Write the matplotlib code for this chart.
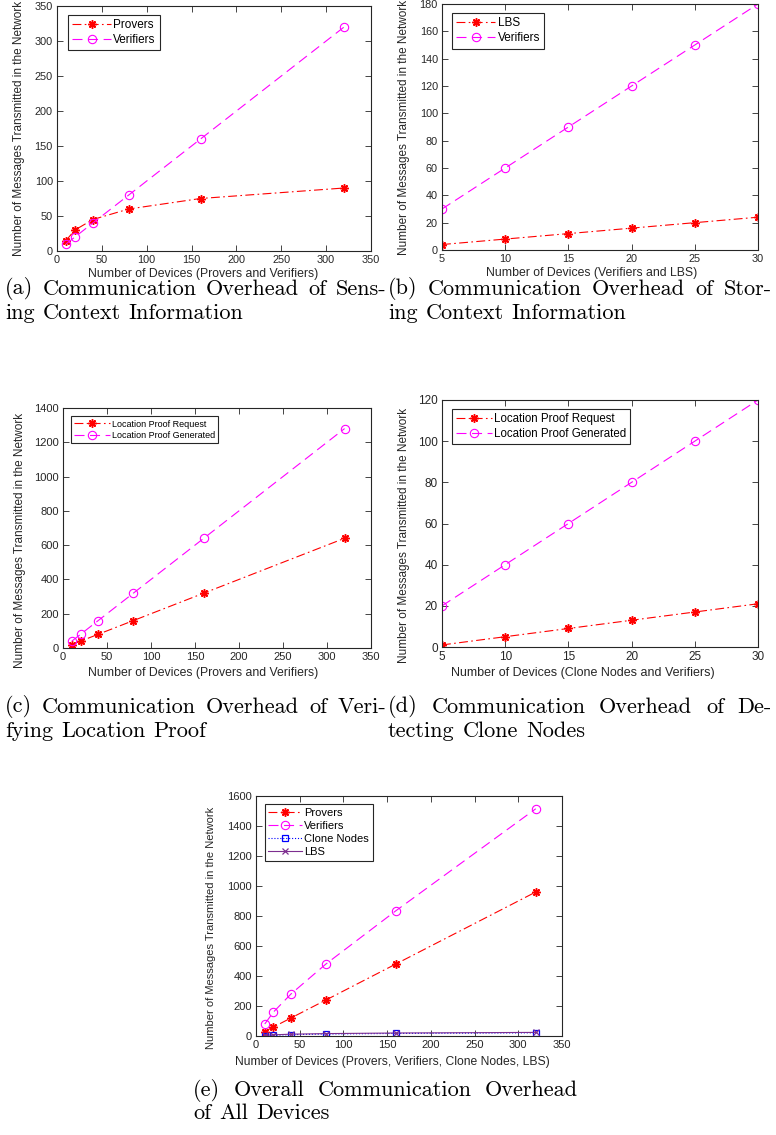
import numpy as np
import matplotlib
matplotlib.use("Agg")
import matplotlib.pyplot as plt

# ---- data ----
# (a) sensing context information
x_a = [10, 20, 40, 80, 160, 320]
provers_a = [15, 30, 45, 60, 75, 90]
verifiers_a = [10, 20, 40, 80, 160, 320]

# (b) storing context information
x_b = [5, 10, 15, 20, 25, 30]
lbs_b = [4, 8, 12, 16, 20, 24]
verifiers_b = [30, 60, 90, 120, 150, 180]

# (c) verifying location proof
x_c = [10, 20, 40, 80, 160, 320]
request_c = [20, 40, 80, 160, 320, 640]
generated_c = [40, 80, 160, 320, 640, 1280]

# (d) detecting clone nodes
x_d = [5, 10, 15, 20, 25, 30]
request_d = [1, 5, 9, 13, 17, 21]
generated_d = [20, 40, 60, 80, 100, 120]

# (e) overall
x_e = [10, 20, 40, 80, 160, 320]
provers_e = [30, 60, 120, 240, 480, 960]
verifiers_e = [80, 160, 280, 480, 835, 1515]
clone_e = [1, 5, 9, 13, 17, 21]
lbs_e = [4, 8, 12, 16, 20, 24]

ylab = 'Number of Messages Transmitted in the Network'

plt.rcParams['font.family'] = ['Liberation Sans', 'DejaVu Sans']
W, H = 776, 1135
fig = plt.figure(figsize=(W / 100, H / 100), dpi=100)
dark = (0.15, 0.15, 0.15)

RED = dict(color='red', ls=(0, (8, 3, 1.5, 3)), marker=(8, 2, 0), ms=6, mew=1.1, lw=0.8)
MAG = dict(color='magenta', ls=(0, (9, 5)), marker='o', ms=6, mfc='none', mew=0.8, lw=0.8)
BLU = dict(color='blue', ls=':', marker='s', ms=5, mfc='none', mew=0.9, lw=0.8)
PUR = dict(color=(0.49, 0.18, 0.56), ls='-', marker='x', ms=4, mew=0.9, lw=0.8)


def make_ax(x0, y0, x1, y1, tfs):
    ax = fig.add_axes([x0 / W, 1 - y1 / H, (x1 - x0) / W, (y1 - y0) / H])
    for s in ax.spines.values():
        s.set_color(dark)
        s.set_linewidth(0.8)
    ax.tick_params(direction='in', top=True, right=True, length=4, width=0.6,
                   colors=dark, labelsize=tfs, pad=3)
    return ax


def finish(ax, xlabel, xfs, yfs, lx, ly, xlx, xly, leg_xy, leg_fs, hl):
    ax.set_xlabel(xlabel, fontsize=xfs, color=dark)
    ax.set_ylabel(ylab, fontsize=yfs, color=dark)
    ax.yaxis.set_label_coords(lx, ly)
    ax.xaxis.set_label_coords(xlx, xly)
    leg = ax.legend(loc='upper left', bbox_to_anchor=leg_xy, fontsize=leg_fs,
                    handlelength=hl, handletextpad=0.2, borderpad=0.35,
                    labelspacing=0.25, fancybox=False, framealpha=1,
                    borderaxespad=0)
    leg.get_frame().set_edgecolor(dark)
    leg.get_frame().set_linewidth(0.8)


# (a)
ax = make_ax(57, 6, 371, 251, 7.8)
ax.plot(x_a, provers_a, label='Provers', **RED)
ax.plot(x_a, verifiers_a, label='Verifiers', **MAG)
ax.set_xlim(0, 350)
ax.set_ylim(0, 350)
ax.set_xticks(np.arange(0, 351, 50))
ax.set_yticks(np.arange(0, 351, 50))
finish(ax, 'Number of Devices (Provers and Verifiers)', 8.8, 8.5, -0.102, 0.5, 0.465, -0.07,
       (0.035, 0.965), 8.5, 3.3)

# (b)
ax = make_ax(442, 4, 758, 250, 7.8)
ax.plot(x_b, lbs_b, label='LBS', **RED)
ax.plot(x_b, verifiers_b, label='Verifiers', **MAG)
ax.set_xlim(5, 30)
ax.set_ylim(0, 180)
ax.set_xticks(np.arange(5, 31, 5))
ax.set_yticks(np.arange(0, 181, 20))
finish(ax, 'Number of Devices (Verifiers and LBS)', 8.8, 8.5, -0.101, 0.5, 0.475, -0.07,
       (0.032, 0.962), 8.5, 3.3)

# (c)
ax = make_ax(63, 408, 371, 648, 8)
ax.plot(x_c, request_c, label='Location Proof Request', **RED)
ax.plot(x_c, generated_c, label='Location Proof Generated', **MAG)
ax.set_xlim(0, 350)
ax.set_ylim(0, 1400)
ax.set_xticks(np.arange(0, 351, 50))
ax.set_yticks(np.arange(0, 1401, 200))
finish(ax, 'Number of Devices (Provers and Verifiers)', 8.8, 8.5, -0.12, 0.45, 0.455, -0.08,
       (0.025, 0.965), 6.5, 4.0)

# (d)
ax = make_ax(442, 400, 758, 647, 8.5)
ax.plot(x_d, request_d, label='Location Proof Request', **RED)
ax.plot(x_d, generated_d, label='Location Proof Generated', **MAG)
ax.set_xlim(5, 30)
ax.set_ylim(0, 120)
ax.set_xticks(np.arange(5, 31, 5))
ax.set_yticks(np.arange(0, 121, 20))
finish(ax, 'Number of Devices (Clone Nodes and Verifiers)', 9, 8.5, -0.101, 0.45, 0.446, -0.08,
       (0.032, 0.965), 8.3, 3.1)

# (e)
ax = make_ax(256, 796, 562, 1036, 8)
ax.plot(x_e, provers_e, label='Provers', **RED)
ax.plot(x_e, verifiers_e, label='Verifiers', **MAG)
ax.plot(x_e, clone_e, label='Clone Nodes', **BLU)
ax.plot(x_e, lbs_e, label='LBS', **PUR)
ax.set_xlim(0, 350)
ax.set_ylim(0, 1600)
ax.set_xticks(np.arange(0, 351, 50))
ax.set_yticks(np.arange(0, 1601, 200))
finish(ax, 'Number of Devices (Provers, Verifiers, Clone Nodes, LBS)', 8.75, 8, -0.13, 0.45, 0.445, -0.085,
       (0.028, 0.965), 8, 3.0)

# ---- captions (justified like the LaTeX subcaptions) ----
renderer = fig.canvas.get_renderer()
CAP = dict(family='cmr10', fontsize=16, va='center', ha='left', color='black')


def caption_line(text, x0, x1, y, justify=True):
    words = text.split(' ')
    objs = [fig.text(0, 1 - y / H, w, **CAP) for w in words]
    widths = [o.get_window_extent(renderer).width for o in objs]
    if justify and len(words) > 1:
        gap = (x1 - x0 - sum(widths)) / (len(words) - 1)
    else:
        gap = 0.36 * CAP['fontsize'] * 100 / 72
    x = x0
    for o, w in zip(objs, widths):
        o.set_x(x / W)
        x += w + gap


caption_line('(a) Communication Overhead of Sens-', 5, 386, 289)
caption_line('ing Context Information', 5, 386, 313, justify=False)
caption_line('(b) Communication Overhead of Stor-', 388, 772, 289)
caption_line('ing Context Information', 388, 772, 313, justify=False)
caption_line('(c) Communication Overhead of Veri-', 5, 386, 707)
caption_line('fying Location Proof', 5, 386, 731, justify=False)
caption_line('(d) Communication Overhead of De-', 388, 772, 707)
caption_line('tecting Clone Nodes', 388, 772, 731, justify=False)
caption_line('(e) Overall Communication Overhead', 193, 578, 1090)
caption_line('of All Devices', 193, 578, 1113, justify=False)

fig.savefig('out.png', dpi=100)
